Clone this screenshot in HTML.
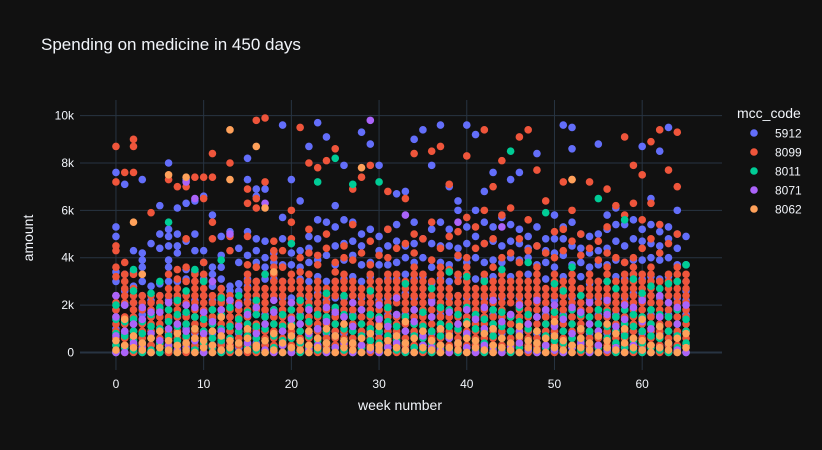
<!DOCTYPE html>
<html><head><meta charset="utf-8"><style>
html,body{margin:0;padding:0;background:#111111;}
svg{display:block;font-family:"Liberation Sans",sans-serif;}
</style></head><body>
<svg id="chart" width="822" height="450">
<rect width="822" height="450" fill="#111111"/>
<text x="41" y="50" fill="#f2f5fa" font-size="17">Spending on medicine in 450 days</text>
<g id="grid"></g>
<g id="marks"></g>
<g id="axes"></g>
<text x="400" y="410" fill="#f2f5fa" font-size="14" text-anchor="middle">week number</text>
<text x="0" y="0" fill="#f2f5fa" font-size="14" text-anchor="middle" transform="translate(33,238) rotate(-90)">amount</text>
<g id="legend"></g>
</svg>
<script>
const seriesNames = ["5912","8099","8011","8071","8062"];
const seriesColors = ["#636efa","#EF553B","#00cc96","#ab63fa","#FFA15A"];
const xTicks = [0,10,20,30,40,50,60];
const yTicks = [0,2000,4000,6000,8000,10000];
const yTickLabels = ["0","2k","4k","6k","8k","10k"];
// amounts in hundreds, one string per week (0..65)
const s5912 = ["0 5 10 18 24 30 34 49 53 76","2 8 14 20 26 33 71","3 9 15 21 28 34 43","2 8 16 24 30 36 39 42 73","3 9 15 22 28 46","4 10 17 24 29 44 50 62","2 8 14 22 30 36 39 45 49 52 80","3 9 15 23 30 42 45 50 61","4 10 16 24 31 35 47 63 73","2 8 15 22 30 34 43 50 64","3 9 17 24 31 38 43 66","2 8 14 22 28 33 36 58","4 10 16 22 27 31 36 41 49","3 9 15 22 26 28 51","2 8 14 20 26 29 38 44","3 9 15 22 28 31 41 51 73 82","4 10 16 24 30 38 43 48 69 66","3 9 16 24 31 36 40 47 69","2 8 15 24 31 38 42","3 9 16 23 30 37 48 57 96","2 8 15 23 30 37 42 46 73","3 9 16 24 31 36 43 64","2 8 15 23 30 38 44 49 87","3 9 16 25 32 39 48 56 97","2 8 14 22 30 41 55 91","3 9 16 23 30 37 45 53 62","2 8 15 23 31 39 46 56 79","3 9 16 24 32 41 47 55","2 8 15 23 30 37 45 50 93","3 9 16 24 32 38 52 88","2 8 15 22 30 37 43 49 79","3 9 16 23 31 37 45 52","2 8 15 23 31 38 47 54 67","3 9 16 25 33 40 45 68","2 8 15 23 31 38 46 55 90","3 9 16 24 32 40 48 94","2 8 15 22 29 36 46 52 79","3 9 16 24 31 38 45 55 96","2 8 15 23 30 37 45 52 70","3 9 16 24 32 40 44 60 64","2 8 15 23 30 38 46 53 96","3 9 16 24 31 40 49 60 92","2 8 15 23 31 38 46 55 68","3 9 16 24 32 39 47 53 76","2 8 15 23 30 38 45 57","3 9 16 24 32 40 47 54 73","2 8 15 23 30 39 46 52 76","3 9 16 24 33 40 44 49","2 8 15 23 30 37 45 53 84","3 9 16 24 31 38 43 48","2 8 15 22 29 36 42 48 58","3 9 16 24 32 41 48 53 96","2 8 15 23 30 37 45 55 86 95","3 9 16 24 32 38 44 50","2 8 15 22 29 36 42 49","3 9 16 23 30 37 43 50 88","2 8 15 23 30 37 44 52 58","3 9 16 24 32 39 47 54 61","2 8 15 23 31 38 45 54","3 9 16 25 33 39 48 56","2 8 15 23 31 39 47 52 87","3 9 16 24 32 40 46 54 65","2 8 15 23 31 39 45 51 85","3 9 16 24 32 40 48 53 95","2 8 15 23 30 37 44 50 60","3 9 16 22 26 30 37 49"];
const s8099 = ["0 3 6 9 12 15 18 21 24 32 36 43 45 72 87","0 3 6 9 12 15 21 24 27 30 33 38 76","0 3 6 9 12 15 18 21 24 27 33 76 87 90","0 3 6 9 12 18 21 24","0 3 6 9 12 15 18 21 24 59","0 3 6 9 12 15 18 21 24","0 3 6 9 15 18 21 24 27 33 73","0 3 6 9 12 15 18 21 24 27 31 35 70","0 3 6 9 12 15 21 24 30 36 48 70","0 3 6 9 12 15 18 21 24 27 30 33 74","0 3 6 9 12 15 18 21 24 27 30 33 38 65 74","0 3 6 9 12 15 18 21 24 30 48 55 74 84","0 3 6 9 12 15 18 21 24 27","0 3 6 9 12 15 18 21 24 43 49 80","0 3 6 9 12 15 18 21","0 3 6 9 12 15 18 21 24 27 30 33 37 49 63 69","0 3 6 9 12 18 21 24 27 30 36 61 65 98","0 3 6 9 12 15 18 21 24 27 33 72 99","0 3 6 9 12 15 18 24 27 30 33 36 40 43 47","0 3 6 9 12 15 18 21 24 27 30 36 43","0 3 6 9 12 15 18 21 27 30 33 48 55 60","0 3 6 9 12 15 18 21 24 27 30 34 40 95","0 3 6 9 12 15 21 24 27 33 42 52 80","0 3 6 9 12 15 18 21 24 27 30 37 41 78","0 3 6 9 12 15 18 21 24 27 44 50 81","0 3 6 9 12 15 18 24 27 30 34 38 86","0 3 6 9 12 15 18 21 24 27 30 33 40 45","0 3 6 9 12 15 18 21 24 27 30 39 54 69","0 3 6 9 12 15 18 21 24 27 42 74","0 3 6 9 12 15 18 21 24 27 30 33 37 47 79","0 3 6 9 12 15 18 21 24 27 30 41","0 3 6 9 12 15 18 21 24 27 30 33 40 52 68","0 3 6 9 12 15 21 24 27 30 33 44","0 3 6 9 12 15 18 21 24 27 30 46 65","0 3 6 9 12 15 18 21 24 27 30 33 36 42 50 84","0 3 6 9 12 15 18 21 24 27 30 33 48","0 3 6 9 12 15 18 24 27 30 39 55 85","0 3 6 9 12 15 18 21 24 27 30 33 36 44 87","0 3 6 9 12 15 18 21 24 27 35 49 71","0 3 6 9 12 15 18 21 24 30 33 41 51","0 3 6 9 12 15 18 21 24 27 30 33 36 40 57 83","0 3 6 9 12 15 18 21 24 27 44 53","0 3 6 9 12 15 18 21 24 27 30 33 46 60 94","0 3 6 9 12 15 18 21 24 27 30 36 48 70","0 3 6 9 12 15 18 21 24 27 30 33 40 58 81","0 3 6 9 12 15 21 24 27 30 42 61","0 3 6 9 12 15 18 21 24 27 30 33 38 48 91","0 3 6 9 12 15 18 21 24 27 30 43 56 94","0 3 6 9 12 15 18 21 24 27 30 33 36 45 77","0 3 6 9 12 15 18 21 24 27 42 64","0 3 6 9 12 15 18 24 27 30 33 40 51","0 3 6 9 12 15 18 21 24 27 30 43 52 72","0 3 6 9 12 15 18 21 24 27 30 33 47 60 73","0 3 6 9 12 15 18 21 24 27 41 50","0 3 6 9 12 15 18 21 24 27 30 33 44 72","0 3 6 9 12 15 18 21 24 27 30 39 47","0 3 6 9 12 15 18 21 24 27 30 33 36 42 53 69","0 3 6 9 12 15 18 21 24 30 40 62","0 3 6 9 12 15 18 21 24 27 30 33 38 58 91","0 3 6 9 12 15 18 21 24 27 30 33 36 40 63 79","0 3 6 9 12 15 18 21 24 27 30 33 44 56 75","0 3 6 9 12 15 18 21 24 27 30 33 36 48 63 89","0 3 6 9 12 15 18 21 24 27 30 42 54 94","0 3 6 9 12 15 18 21 24 27 30 33 46 77","0 3 6 9 12 15 18 21 24 27 30 33 36 50 70 93","0 3 6 9 12 15 18 21 24 27 30 33"];
const s8011 = ["0 3 8 14 20","2 7 13 20","1 5 9 14 26 35","0 4 8 13","1 6 11 16 25","0 4 10 19 30","2 7 13 18 55","0 5 11 16 22","2 7 12 17 26","1 5 10 15 35","0 4 9 14 30","2 6 12 18","0 5 10 16 23 39","1 6 11 19","0 4 9 14 24","2 7 12 17","1 6 11 16 22","0 5 10 15 33","2 7 12 18","0 5 11 16","1 6 12 18 46","0 4 9 15 22","2 7 13 19","1 5 10 16 72","0 4 9 15 25","2 7 12 19 82","1 5 10 16 24","0 4 9 15 71","2 7 12 18","1 5 10 16 26","0 4 9 15 72","2 7 13 19","1 5 11 16","0 4 9 15 29","2 7 12 18","1 6 11 17","0 4 9 15 27","2 7 12 19","1 6 11 18 34","0 4 10 16","2 7 13 19 32","1 5 10 16","0 4 9 14 30","2 7 12 18","1 6 11 17 35","0 4 9 15 85","2 7 13 19","1 5 10 16 38","0 4 9 15","2 7 12 18 59","1 5 11 17 29","0 4 9 15 26","2 6 12 18 36","1 5 10 16 24","0 4 9 15","2 7 12 18 65","1 6 11 17 30","0 4 9 15 27","2 7 12 18 56","1 5 11 16 31","0 4 9 15 25","2 7 12 18 28","1 6 11 16 27","0 4 9 15 29","2 7 12 18 30","0 4 9 14 37"];
const s8071 = ["0 7 15 24","0 9 20","4 12","2 14 19","0 8 17","5 17","3 10 21","1 12","2 9 20 72","5 19 65","0 8 17","3 13 30","1 9 18","5 22 50","0 11 20","4 16","2 8 19","1 12 63","0 17 22","3 9","0 14 21","5 12","1 18 8","3 10","0 13 19","2 7 17","4 15","0 11 21","3 18","1 8 98","0 14 20","2 11","4 16 23","1 9 58","0 13 18","3 7","2 15 21","1 10","0 17 6","4 12 55","2 8 18","0 14","3 19 10","1 10 22","0 13 53","2 16","4 9 20","1 12","0 15 22","3 18","1 11 20","0 14","2 8 19","4 17","0 12 21","3 9","1 16 22","2 11","0 14 20","3 19","1 13 22","0 10","2 15 24","4 21","1 12 19","0 20"];
const s8062 = ["1 5","3 14","2 7 55","1 4 33","0 6","2 9","1 5 75","0 3 8","1 4 74","0 6 10","2 5","0 3 9","1 7 15","2 5 94 73","0 4","1 6 10","2 3 87","0 5 61","1 8 34","0 4","2 7 11","1 5","0 3 9","2 6","1 4 10","0 7","2 5 12","1 4","0 6 78","2 8","1 3 11","0 5","2 7","1 4 13","0 6","2 9","1 5","0 3 10","2 7","1 4","0 6 12","2 5","1 8","0 3 10","2 6","1 4","0 7 11","2 5","1 4 9","0 6","2 7 13","1 5","0 3 73","2 6 10","1 4","0 7","2 5 12","1 8","0 4 10","2 6","1 5 14","0 3","2 7 11","1 4","0 6","2 8"];
const seriesData = [s5912, s8099, s8011, s8071, s8062];

const X0 = 80, X1 = 722, Y0 = 100, Y1 = 370;
const xMin = -4.1, xMax = 69.1, yMin = -740, yMax = 10660;
function xs(v){ return X0 + (v - xMin) / (xMax - xMin) * (X1 - X0); }
function ys(v){ return Y1 - (v - yMin) / (yMax - yMin) * (Y1 - Y0); }
const NS = "http://www.w3.org/2000/svg";
function mk(tag, attrs, parent){ const e = document.createElementNS(NS, tag); for (const k in attrs) e.setAttribute(k, attrs[k]); parent.appendChild(e); return e; }

const grid = document.getElementById('grid');
const axes = document.getElementById('axes');
xTicks.forEach(t => {
  const l = mk('line', {x1: xs(t), x2: xs(t), y1: Y0, y2: Y1, stroke: '#283442', 'stroke-width': 1}, grid);
  
  
  const tx = mk('text', {x: xs(t), y: 388, fill: '#f2f5fa', 'font-size': 12, 'text-anchor': 'middle'}, axes);
  tx.textContent = t;
  
  
});
yTicks.forEach((t, i) => {
  const l = mk('line', {x1: X0, x2: X1, y1: ys(t), y2: ys(t), stroke: '#283442', 'stroke-width': t === 0 ? 2 : 1}, grid);
  
  
  const tx = mk('text', {x: 74, y: ys(t) + 4, fill: '#f2f5fa', 'font-size': 12, 'text-anchor': 'end'}, axes);
  tx.textContent = yTickLabels[i];
  
  
});

const marks = document.getElementById('marks');
seriesData.forEach((rows, si) => {
  const g = mk('g', {fill: seriesColors[si]}, marks);
  
  
  rows.forEach((row, week) => {
    row.split(' ').forEach(s => {
      const v = Number(s) * 100;
      const c = mk('circle', {cx: xs(week), cy: ys(v), r: 3.8}, g);
      
      
    });
  });
});

const legend = document.getElementById('legend');
const lt = mk('text', {x: 737, y: 118, fill: '#f2f5fa', 'font-size': 14}, legend);
lt.textContent = 'mcc_code';


seriesNames.forEach((n, i) => {
  const y = 133 + i * 19;
  const g = mk('g', {}, legend);
  
  
  mk('circle', {cx: 754, cy: y, r: 3.8, fill: seriesColors[i]}, g);
  const t = mk('text', {x: 775, y: y + 4.5, fill: '#f2f5fa', 'font-size': 12}, g);
  t.textContent = n;
});
</script>
</body></html>
